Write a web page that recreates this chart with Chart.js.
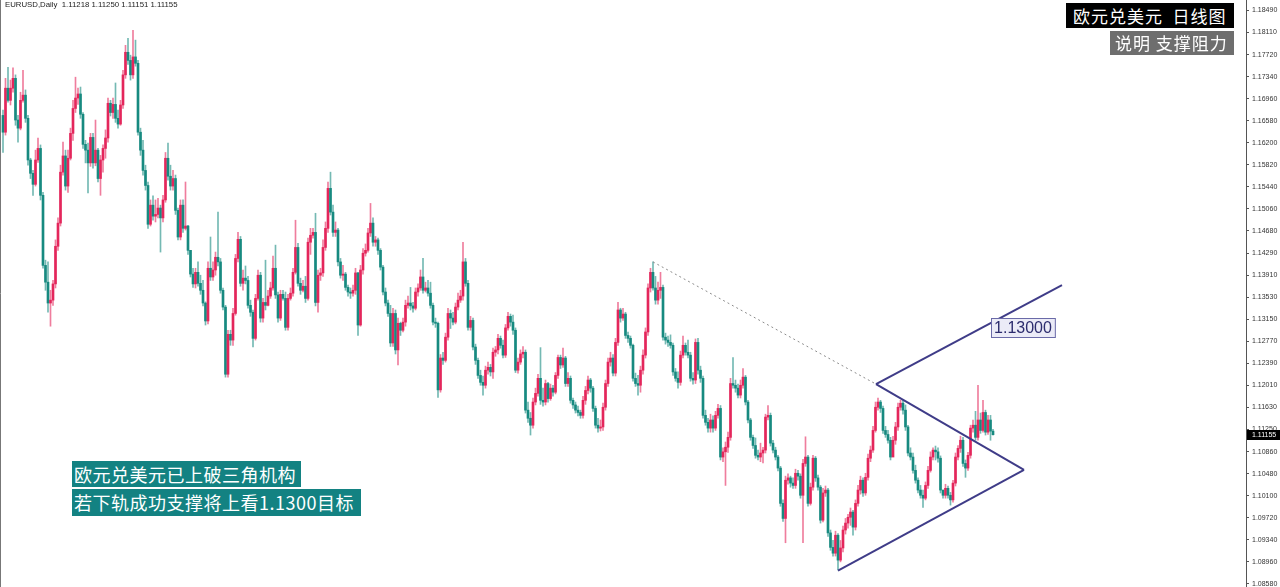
<!DOCTYPE html>
<html>
<head>
<meta charset="utf-8">
<script src="https://cdn.jsdelivr.net/npm/chart.js@4.4.0/dist/chart.umd.min.js"></script>
<style>
    html, body { margin: 0; padding: 0; background: #fff; }
    #wrap { position: relative; width: 1280px; height: 587px; overflow: hidden; }
    #c { position: absolute; left: 0; top: 0; }
    #hdr { position: absolute; left: 5px; top: 0px; font: 7.8px "Liberation Sans", sans-serif; color: #222; white-space: pre; }
    .tag { position: absolute; color: #fff; font-family: "Noto Sans CJK SC", sans-serif; white-space: pre; box-sizing: border-box; }
    #t1 { left: 1066px; top: 3px; width: 168px; height: 25px; line-height: 25px; background: #000; font-size: 17px; padding-left: 7px; letter-spacing: 1px; }
    #t2 { left: 1110px; top: 31px; width: 124px; height: 24px; line-height: 24px; background: #6e6e6e; font-size: 17px; padding-left: 5px; letter-spacing: 1px; }
    #n1 { left: 72px; top: 461px; width: 229px; height: 26px; line-height: 26px; background: #138282; font-size: 18px; padding-left: 2px; letter-spacing: 0.5px; }
    #n2 { left: 72px; top: 489px; width: 289px; height: 27px; line-height: 27px; background: #138282; font-size: 18px; padding-left: 2px; letter-spacing: 0.5px; }
</style>
</head>
<body>
<div id="wrap">
    <canvas id="c" width="1280" height="587"></canvas>
    <div id="hdr">EURUSD,Daily  1.11218 1.11250 1.11151 1.11155</div>
    <div class="tag" id="t1">欧元兑美元  日线图</div>
    <div class="tag" id="t2">说明 支撑阻力</div>
    <div class="tag" id="n1">欧元兑美元已上破三角机构</div>
    <div class="tag" id="n2">若下轨成功支撑将上看1.1300目标</div>
</div>
<script>
// --- datos: velas diarias EURUSD ---
const opens = [
1.1667,1.1638,1.1714,1.1693,1.1714,1.1731,1.1659,1.1645,1.1693,1.1702,
1.1662,1.1590,1.1567,1.1548,1.1590,1.1610,1.1529,1.1408,1.1379,1.1343,
1.1348,1.1376,1.1441,1.1481,1.1569,1.1597,1.1545,1.1593,1.1636,1.1679,
1.1697,1.1704,1.1669,1.1617,1.1607,1.1585,1.1629,1.1585,1.1607,1.1558,
1.1590,1.1610,1.1628,1.1688,1.1672,1.1686,1.1662,1.1652,1.1685,1.1737,
1.1776,1.1762,1.1737,1.1768,1.1757,1.1638,1.1607,1.1572,1.1546,1.1479,
1.1512,1.1493,1.1496,1.1507,1.1490,1.1521,1.1593,1.1562,1.1545,1.1558,
1.1503,1.1457,1.1512,1.1472,1.1476,1.1434,1.1393,1.1376,1.1396,1.1377,
1.1365,1.1343,1.1312,1.1403,1.1388,1.1400,1.1422,1.1414,1.1365,1.1336,
1.1220,1.1289,1.1279,1.1325,1.1420,1.1453,1.1377,1.1386,1.1382,1.1339,
1.1327,1.1282,1.1351,1.1391,1.1317,1.1344,1.1339,1.1355,1.1369,1.1403,
1.1357,1.1317,1.1358,1.1351,1.1301,1.1351,1.1360,1.1396,1.1439,1.1377,
1.1365,1.1372,1.1351,1.1448,1.1460,1.1465,1.1344,1.1391,1.1395,1.1439,
1.1472,1.1541,1.1500,1.1465,1.1469,1.1414,1.1391,1.1393,1.1370,1.1362,
1.1360,1.1365,1.1395,1.1305,1.1400,1.1429,1.1434,1.1464,1.1481,1.1448,
1.1452,1.1434,1.1405,1.1362,1.1343,1.1325,1.1274,1.1325,1.1262,1.1308,
1.1296,1.1310,1.1339,1.1343,1.1338,1.1334,1.1362,1.1369,1.1388,1.1365,
1.1369,1.1360,1.1339,1.1310,1.1308,1.1193,1.1248,1.1244,1.1284,1.1325,
1.1317,1.1310,1.1336,1.1348,1.1355,1.1414,1.1377,1.1301,1.1313,1.1267,
1.1244,1.1218,1.1206,1.1201,1.1227,1.1232,1.1224,1.1258,1.1262,1.1282,
1.1270,1.1253,1.1300,1.1320,1.1310,1.1296,1.1227,1.1241,1.1255,1.1258,
1.1158,1.1144,1.1132,1.1172,1.1187,1.1213,1.1175,1.1172,1.1204,1.1178,
1.1196,1.1189,1.1218,1.1249,1.1236,1.1248,1.1204,1.1213,1.1175,1.1167,
1.1158,1.1154,1.1149,1.1175,1.1192,1.1210,1.1196,1.1161,1.1132,1.1127,
1.1129,1.1163,1.1204,1.1241,1.1248,1.1222,1.1275,1.1331,1.1317,1.1324,
1.1287,1.1282,1.1270,1.1213,1.1204,1.1201,1.1227,1.1253,1.1293,1.1369,
1.1396,1.1369,1.1348,1.1365,1.1370,1.1284,1.1279,1.1275,1.1270,1.1224,
1.1213,1.1206,1.1253,1.1270,1.1258,1.1253,1.1213,1.1210,1.1275,1.1227,
1.1213,1.1149,1.1137,1.1127,1.1141,1.1127,1.1149,1.1161,1.1077,1.1086,
1.1094,1.1111,1.1204,1.1201,1.1196,1.1184,1.1201,1.1215,1.1172,1.1141,
1.1111,1.1097,1.1080,1.1077,1.1084,1.1089,1.1146,1.1149,1.1101,1.1089,
1.1077,1.1058,1.0997,1.0971,1.1037,1.1041,1.1032,1.1028,1.1049,1.1044,
1.1011,1.1066,1.1077,1.0997,1.1025,1.1075,1.1041,1.1025,1.0968,1.1015,
1.1020,1.0946,1.0921,1.0911,1.0942,1.0899,1.0920,1.0951,1.0963,1.0973,
1.0982,1.0956,1.0997,1.1020,1.1037,1.1015,1.1042,1.1075,1.1089,1.1123,
1.1163,1.1172,1.1161,1.1123,1.1116,1.1106,1.1077,1.1106,1.1129,1.1163,
1.1170,1.1158,1.1129,1.1084,1.1077,1.1054,1.1037,1.1020,1.1011,1.1006,
1.1028,1.1054,1.1077,1.1089,1.1086,1.1075,1.1020,1.1011,1.1023,1.1011,
1.1003,1.1032,1.1077,1.1092,1.1106,1.1066,1.1058,1.1080,1.1127,1.1132,
1.1111,1.1141,1.1123,1.1154,1.1120,1.1141,1.11218
];
const highs = [
1.1676,1.1731,1.1750,1.1728,1.1749,1.1737,1.1667,1.1707,1.1745,1.1711,
1.1667,1.1593,1.1572,1.1607,1.1628,1.1616,1.1534,1.1417,1.1414,1.1365,
1.1382,1.1452,1.1490,1.1581,1.1621,1.1607,1.1607,1.1645,1.1693,1.1733,
1.1714,1.1716,1.1672,1.1624,1.1619,1.1636,1.1636,1.1659,1.1610,1.1598,
1.1616,1.1642,1.1697,1.1693,1.1697,1.1723,1.1676,1.1693,1.1745,1.1788,
1.1800,1.1771,1.1814,1.1797,1.1762,1.1645,1.1624,1.1581,1.1552,1.1521,
1.1528,1.1521,1.1524,1.1512,1.1529,1.1603,1.1619,1.1581,1.1572,1.1564,
1.1507,1.1521,1.1521,1.1552,1.1477,1.1434,1.1403,1.1403,1.1414,1.1391,
1.1382,1.1345,1.1414,1.1457,1.1414,1.1431,1.1500,1.1420,1.1369,1.1339,
1.1296,1.1296,1.1334,1.1427,1.1465,1.1458,1.1400,1.1407,1.1389,1.1348,
1.1331,1.1358,1.1400,1.1396,1.1351,1.1417,1.1365,1.1379,1.1424,1.1443,
1.1362,1.1365,1.1365,1.1362,1.1358,1.1369,1.1403,1.1486,1.1446,1.1386,
1.1382,1.1389,1.1455,1.1472,1.1472,1.1498,1.1400,1.1403,1.1452,1.1483,
1.1552,1.1569,1.1512,1.1483,1.1472,1.1420,1.1408,1.1396,1.1374,1.1369,
1.1374,1.1403,1.1396,1.1408,1.1437,1.1445,1.1472,1.1515,1.1490,1.1458,
1.1455,1.1437,1.1408,1.1369,1.1348,1.1339,1.1334,1.1331,1.1317,1.1310,
1.1317,1.1348,1.1355,1.1370,1.1344,1.1369,1.1376,1.1400,1.1420,1.1379,
1.1382,1.1379,1.1343,1.1317,1.1310,1.1254,1.1258,1.1291,1.1334,1.1331,
1.1327,1.1343,1.1360,1.1365,1.1448,1.1420,1.1382,1.1320,1.1317,1.1272,
1.1248,1.1227,1.1217,1.1234,1.1241,1.1237,1.1265,1.1268,1.1289,1.1286,
1.1279,1.1306,1.1327,1.1324,1.1322,1.1300,1.1248,1.1262,1.1268,1.1262,
1.1172,1.1154,1.1179,1.1196,1.1220,1.1266,1.1196,1.1210,1.1206,1.1203,
1.1201,1.1223,1.1253,1.1253,1.1265,1.1251,1.1223,1.1217,1.1179,1.1172,
1.1165,1.1158,1.1182,1.1199,1.1217,1.1213,1.1199,1.1165,1.1144,1.1141,
1.1170,1.1210,1.1248,1.1258,1.1254,1.1282,1.1344,1.1334,1.1334,1.1327,
1.1293,1.1286,1.1272,1.1222,1.1218,1.1234,1.1262,1.1300,1.1376,1.1403,
1.1414,1.1389,1.1379,1.1396,1.1374,1.1291,1.1286,1.1288,1.1274,1.1230,
1.1224,1.1260,1.1286,1.1274,1.1279,1.1258,1.1223,1.1281,1.1282,1.1234,
1.1217,1.1158,1.1144,1.1151,1.1148,1.1156,1.1168,1.1166,1.1093,1.1103,
1.1120,1.1213,1.1249,1.1210,1.1203,1.1210,1.1230,1.1218,1.1175,1.1144,
1.1115,1.1110,1.1089,1.1101,1.1094,1.1151,1.1166,1.1153,1.1106,1.1094,
1.1080,1.1061,1.1003,1.1044,1.1048,1.1044,1.1041,1.1056,1.1054,1.1048,
1.1073,1.1112,1.1080,1.1032,1.1080,1.1078,1.1046,1.1028,1.1023,1.1027,
1.1023,1.0951,1.0933,1.0949,1.0945,1.0933,1.0958,1.0971,1.0978,1.0989,
1.0985,1.1003,1.1028,1.1044,1.1041,1.1049,1.1082,1.1096,1.1130,1.1172,
1.1179,1.1175,1.1165,1.1130,1.1123,1.1111,1.1113,1.1137,1.1170,1.1175,
1.1175,1.1167,1.1132,1.1093,1.1084,1.1063,1.1041,1.1028,1.1020,1.1034,
1.1061,1.1086,1.1093,1.1096,1.1093,1.1079,1.1020,1.1030,1.1027,1.1016,
1.1037,1.1084,1.1097,1.1113,1.1111,1.1072,1.1085,1.1132,1.1141,1.1156,
1.1201,1.1153,1.1175,1.1158,1.1149,1.1149,1.11250
];
const lows = [
1.1603,1.1633,1.1690,1.1685,1.1707,1.1650,1.1621,1.1642,1.1690,1.1655,
1.1581,1.1558,1.1529,1.1545,1.1586,1.1521,1.1403,1.1365,1.1327,1.1303,
1.1339,1.1369,1.1434,1.1476,1.1564,1.1538,1.1534,1.1590,1.1624,1.1672,
1.1686,1.1662,1.1610,1.1585,1.1533,1.1579,1.1576,1.1580,1.1552,1.1529,
1.1569,1.1593,1.1621,1.1666,1.1662,1.1655,1.1645,1.1650,1.1679,1.1731,
1.1755,1.1728,1.1731,1.1752,1.1633,1.1598,1.1564,1.1538,1.1472,1.1476,
1.1486,1.1483,1.1490,1.1431,1.1483,1.1517,1.1555,1.1538,1.1538,1.1496,
1.1452,1.1452,1.1465,1.1469,1.1427,1.1388,1.1370,1.1369,1.1372,1.1358,
1.1338,1.1305,1.1307,1.1382,1.1382,1.1391,1.1407,1.1360,1.1331,1.1215,
1.1215,1.1270,1.1270,1.1322,1.1414,1.1372,1.1365,1.1376,1.1334,1.1320,
1.1267,1.1279,1.1348,1.1310,1.1310,1.1331,1.1338,1.1351,1.1365,1.1351,
1.1310,1.1313,1.1348,1.1296,1.1296,1.1348,1.1355,1.1393,1.1372,1.1358,
1.1362,1.1344,1.1348,1.1427,1.1455,1.1338,1.1327,1.1382,1.1389,1.1434,
1.1465,1.1495,1.1458,1.1458,1.1407,1.1386,1.1382,1.1365,1.1355,1.1351,
1.1355,1.1358,1.1287,1.1303,1.1393,1.1424,1.1431,1.1458,1.1441,1.1441,
1.1427,1.1400,1.1357,1.1338,1.1320,1.1268,1.1268,1.1255,1.1236,1.1287,
1.1293,1.1303,1.1334,1.1331,1.1327,1.1331,1.1355,1.1365,1.1360,1.1362,
1.1355,1.1334,1.1305,1.1301,1.1180,1.1189,1.1237,1.1241,1.1279,1.1299,
1.1305,1.1307,1.1331,1.1344,1.1348,1.1372,1.1296,1.1296,1.1262,1.1237,
1.1213,1.1201,1.1184,1.1196,1.1220,1.1217,1.1213,1.1251,1.1255,1.1265,
1.1248,1.1249,1.1296,1.1303,1.1289,1.1223,1.1222,1.1237,1.1248,1.1153,
1.1137,1.1115,1.1127,1.1167,1.1182,1.1168,1.1165,1.1167,1.1172,1.1175,
1.1182,1.1186,1.1213,1.1230,1.1232,1.1199,1.1199,1.1170,1.1161,1.1153,
1.1148,1.1144,1.1144,1.1168,1.1186,1.1189,1.1156,1.1127,1.1120,1.1122,
1.1123,1.1158,1.1199,1.1234,1.1217,1.1217,1.1270,1.1310,1.1313,1.1282,
1.1275,1.1265,1.1208,1.1199,1.1184,1.1189,1.1220,1.1248,1.1287,1.1362,
1.1365,1.1341,1.1341,1.1351,1.1279,1.1272,1.1268,1.1265,1.1218,1.1208,
1.1196,1.1201,1.1248,1.1253,1.1248,1.1208,1.1203,1.1204,1.1220,1.1206,
1.1144,1.1132,1.1120,1.1120,1.1120,1.1123,1.1144,1.1072,1.1069,1.1028,
1.1085,1.1106,1.1196,1.1189,1.1179,1.1179,1.1196,1.1167,1.1136,1.1106,
1.1092,1.1075,1.1072,1.1069,1.1067,1.1084,1.1141,1.1096,1.1084,1.1072,
1.1053,1.0992,1.0966,1.0929,1.1030,1.1025,1.1023,1.1023,1.1037,1.1006,
1.0929,1.1061,1.0992,1.0994,1.1020,1.1035,1.1020,1.0963,1.0965,1.1009,
1.0940,1.0916,1.0906,1.0906,1.0882,1.0896,1.0913,1.0944,1.0954,1.0959,
1.0942,1.0951,1.0992,1.1013,1.1009,1.1011,1.1037,1.1069,1.1085,1.1120,
1.1158,1.1154,1.1118,1.1111,1.1101,1.1072,1.1079,1.1099,1.1123,1.1158,
1.1151,1.1123,1.1079,1.1072,1.1049,1.1032,1.1015,1.1006,1.0990,1.1003,
1.1023,1.1051,1.1072,1.1072,1.1068,1.1015,1.1006,1.1006,1.1006,1.0994,
1.0999,1.1027,1.1072,1.1085,1.1061,1.1042,1.1054,1.1075,1.1120,1.1106,
1.1106,1.1118,1.1120,1.1115,1.1116,1.1106,1.11151
];
const closes = [
1.1638,1.1714,1.1693,1.1714,1.1731,1.1659,1.1645,1.1693,1.1702,1.1662,
1.1590,1.1567,1.1548,1.1590,1.1610,1.1529,1.1408,1.1379,1.1343,1.1348,
1.1376,1.1441,1.1481,1.1569,1.1597,1.1545,1.1593,1.1636,1.1679,1.1697,
1.1704,1.1669,1.1617,1.1607,1.1585,1.1629,1.1585,1.1607,1.1558,1.1590,
1.1610,1.1628,1.1688,1.1672,1.1686,1.1662,1.1652,1.1685,1.1737,1.1776,
1.1762,1.1737,1.1768,1.1757,1.1638,1.1607,1.1572,1.1546,1.1479,1.1512,
1.1493,1.1496,1.1507,1.1490,1.1521,1.1593,1.1562,1.1545,1.1558,1.1503,
1.1457,1.1512,1.1472,1.1476,1.1434,1.1393,1.1376,1.1396,1.1377,1.1365,
1.1343,1.1312,1.1403,1.1388,1.1400,1.1422,1.1414,1.1365,1.1336,1.1220,
1.1289,1.1279,1.1325,1.1420,1.1453,1.1377,1.1386,1.1382,1.1339,1.1327,
1.1282,1.1351,1.1391,1.1317,1.1344,1.1339,1.1355,1.1369,1.1403,1.1357,
1.1317,1.1358,1.1351,1.1301,1.1351,1.1360,1.1396,1.1439,1.1377,1.1365,
1.1372,1.1351,1.1448,1.1460,1.1465,1.1344,1.1391,1.1395,1.1439,1.1472,
1.1541,1.1500,1.1465,1.1469,1.1414,1.1391,1.1393,1.1370,1.1362,1.1360,
1.1365,1.1395,1.1305,1.1400,1.1429,1.1434,1.1464,1.1481,1.1448,1.1452,
1.1434,1.1405,1.1362,1.1343,1.1325,1.1274,1.1325,1.1262,1.1308,1.1296,
1.1310,1.1339,1.1343,1.1338,1.1334,1.1362,1.1369,1.1388,1.1365,1.1369,
1.1360,1.1339,1.1310,1.1308,1.1193,1.1248,1.1244,1.1284,1.1325,1.1317,
1.1310,1.1336,1.1348,1.1355,1.1414,1.1377,1.1301,1.1313,1.1267,1.1244,
1.1218,1.1206,1.1201,1.1227,1.1232,1.1224,1.1258,1.1262,1.1282,1.1270,
1.1253,1.1300,1.1320,1.1310,1.1296,1.1227,1.1241,1.1255,1.1258,1.1158,
1.1144,1.1132,1.1172,1.1187,1.1213,1.1175,1.1172,1.1204,1.1178,1.1196,
1.1189,1.1218,1.1249,1.1236,1.1248,1.1204,1.1213,1.1175,1.1167,1.1158,
1.1154,1.1149,1.1175,1.1192,1.1210,1.1196,1.1161,1.1132,1.1127,1.1129,
1.1163,1.1204,1.1241,1.1248,1.1222,1.1275,1.1331,1.1317,1.1324,1.1287,
1.1282,1.1270,1.1213,1.1204,1.1201,1.1227,1.1253,1.1293,1.1369,1.1396,
1.1369,1.1348,1.1365,1.1370,1.1284,1.1279,1.1275,1.1270,1.1224,1.1213,
1.1206,1.1253,1.1270,1.1258,1.1253,1.1213,1.1210,1.1275,1.1227,1.1213,
1.1149,1.1137,1.1127,1.1141,1.1127,1.1149,1.1161,1.1077,1.1086,1.1094,
1.1111,1.1204,1.1201,1.1196,1.1184,1.1201,1.1215,1.1172,1.1141,1.1111,
1.1097,1.1080,1.1077,1.1084,1.1089,1.1146,1.1149,1.1101,1.1089,1.1077,
1.1058,1.0997,1.0971,1.1037,1.1041,1.1032,1.1028,1.1049,1.1044,1.1011,
1.1066,1.1077,1.0997,1.1025,1.1075,1.1041,1.1025,1.0968,1.1015,1.1020,
1.0946,1.0921,1.0911,1.0942,1.0899,1.0920,1.0951,1.0963,1.0973,1.0982,
1.0956,1.0997,1.1020,1.1037,1.1015,1.1042,1.1075,1.1089,1.1123,1.1163,
1.1172,1.1161,1.1123,1.1116,1.1106,1.1077,1.1106,1.1129,1.1163,1.1170,
1.1158,1.1129,1.1084,1.1077,1.1054,1.1037,1.1020,1.1011,1.1006,1.1028,
1.1054,1.1077,1.1089,1.1086,1.1075,1.1020,1.1011,1.1023,1.1011,1.1003,
1.1032,1.1077,1.1092,1.1106,1.1066,1.1058,1.1080,1.1127,1.1132,1.1111,
1.1141,1.1123,1.1154,1.1120,1.1141,1.11218,1.11155
];

// etiquetas del eje de precios (derecha)
const tickValues = [1.18490,1.18110,1.17720,1.17340,1.16960,1.16580,1.16200,1.15820,1.15440,
    1.15060,1.14680,1.14290,1.13910,1.13530,1.13150,1.12770,1.12390,1.12010,1.11630,1.11250,
    1.10860,1.10480,1.10100,1.09720,1.09340,1.08960,1.08580];

// líneas dibujadas (índice de vela, precio)
const resistX = [260, 349.2], resistY = [1.1414, 1.1203];
const upperX = [349.2, 408.4], upperY = [1.1203, 1.1055];
const lowerX = [334, 408.4], lowerY = [1.0881, 1.1055];
const targetX = [349.2, 423.6], targetY = [1.1203, 1.1374];
const targetLabel = '1.13000', targetLabelX = 408, targetLabelY = 1.1301;

const upColor = '#e4265b', downColor = '#178a80';
const idx = closes.map((_, i) => i);
const isUp = idx.map(i => closes[i] >= opens[i]);
const toPts = (xs, ys) => xs.map((x, i) => ({ x: x, y: ys[i] }));

const overlay = {
    id: 'overlay',
    afterDraw(chart) {
        const { ctx, chartArea, scales: { x, y } } = chart;
        ctx.save();
        // marco izquierdo
        ctx.strokeStyle = '#777';
        ctx.lineWidth = 1;
        ctx.beginPath();
        ctx.moveTo(chartArea.left + 0.5, chartArea.top);
        ctx.lineTo(chartArea.left + 0.5, chartArea.bottom);
        ctx.stroke();

        // etiqueta del objetivo
        const lx = x.getPixelForValue(targetLabelX), ly = y.getPixelForValue(targetLabelY);
        ctx.font = '16px "Liberation Sans", sans-serif';
        const w = ctx.measureText(targetLabel).width + 6;
        ctx.fillStyle = '#ebebf7';
        ctx.fillRect(Math.round(lx - w / 2) + 0.5, Math.round(ly - 9.5) + 0.5, w, 19);
        ctx.strokeStyle = '#6a6aa8';
        ctx.strokeRect(Math.round(lx - w / 2) + 0.5, Math.round(ly - 9.5) + 0.5, w, 19);
        ctx.fillStyle = '#2c2c6e';
        ctx.textAlign = 'center';
        ctx.textBaseline = 'middle';
        ctx.fillText(targetLabel, lx, ly + 1);

        // precio actual en el eje
        const last = closes[closes.length - 1];
        const py = Math.round(y.getPixelForValue(last));
        ctx.fillStyle = '#000';
        ctx.fillRect(chartArea.right + 1, py - 5, 34, 10);
        ctx.fillStyle = '#fff';
        ctx.font = '7px "Liberation Sans", sans-serif';
        ctx.textAlign = 'left';
        ctx.fillText(last.toFixed(5), chartArea.right + 6, py);
        ctx.restore();
    }
};

new Chart(document.getElementById('c').getContext('2d'), {
    type: 'bar',
    data: {
        datasets: [
            {
                type: 'line', data: toPts(resistX, resistY), borderColor: '#8c8c8c',
                borderWidth: 1, borderDash: [2, 3], pointRadius: 0, order: 0
            },
            {
                type: 'line', data: toPts(upperX, upperY), borderColor: '#3f3c88',
                borderWidth: 2, pointRadius: 0, order: 0
            },
            {
                type: 'line', data: toPts(lowerX, lowerY), borderColor: '#3f3c88',
                borderWidth: 2, pointRadius: 0, order: 0
            },
            {
                type: 'line', data: toPts(targetX, targetY), borderColor: '#3f3c88',
                borderWidth: 2, pointRadius: 0, order: 0
            },
            {
                data: idx.map(i => ({ x: i, y: [opens[i], closes[i]] })),
                backgroundColor: idx.map(i => isUp[i] ? upColor : downColor),
                barThickness: 2, minBarLength: 1, grouped: false, order: 1
            },
            {
                data: idx.map(i => ({ x: i, y: [lows[i], highs[i]] })),
                backgroundColor: idx.map(i => isUp[i] ? 'rgba(228,38,91,0.6)' : 'rgba(23,138,128,0.6)'),
                barThickness: 1, grouped: false, order: 2
            }
        ]
    },
    options: {
        responsive: false,
        animation: false,
        events: [],
        layout: { padding: 0 },
        plugins: { legend: { display: false }, tooltip: { enabled: false } },
        scales: {
            x: { type: 'linear', display: false, min: -1.2, max: 497.2, offset: false },
            y: {
                position: 'right',
                min: 1.08526,
                max: 1.18663,
                afterBuildTicks: s => { s.ticks = tickValues.map(v => ({ value: v })); },
                afterFit: s => { s.width = 34; s.paddingTop = 0; s.paddingBottom = 0; },
                ticks: {
                    autoSkip: false,
                    padding: 3,
                    color: '#333',
                    font: { size: 7, family: 'Liberation Sans' },
                    callback: v => v.toFixed(5)
                },
                grid: { drawOnChartArea: false, tickLength: 3, color: '#555' },
                border: { color: '#555' }
            }
        }
    },
    plugins: [overlay]
});
</script>
</body>
</html>
